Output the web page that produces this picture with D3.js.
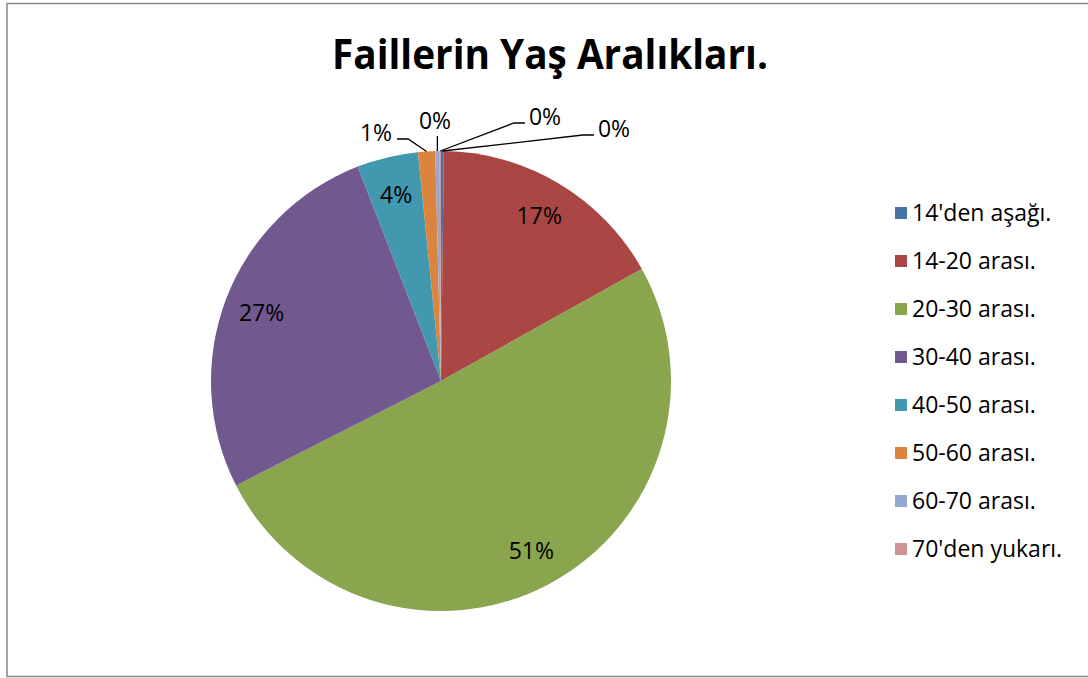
<!DOCTYPE html>
<html>
<head>
<meta charset="utf-8">
<script src="https://cdn.jsdelivr.net/npm/d3@7"></script>
<style>
  html, body { margin: 0; padding: 0; background: #fff; }
  svg { display: block; }
</style>
</head>
<body>
<script>
// Yaş aralıkları (yüzde)
const categories = ["14'den aşağı.", "14-20 arası.", "20-30 arası.", "30-40 arası.",
                    "40-50 arası.", "50-60 arası.", "60-70 arası.", "70'den yukarı."];
const values = [0.2, 16.7, 50.6, 26.6, 4.3, 1.2, 0.3, 0.1];
const colors = ["#4572A7", "#AA4643", "#89A54E", "#71588F",
                "#4198AF", "#DB843D", "#93A9CF", "#D19392"];
const title = "Faillerin Yaş Aralıkları.";

const width = 1088, height = 678;
const cx = 441, cy = 381, R = 230;
const font = "'Open Sans', 'Noto Sans', sans-serif";
const fs = 23;

// dış etiketlerin yeri (merkeze göre: metin ortası x, taban çizgisi y)
const outerPos = {
  "50-60 arası.": [-65, -240],
  "60-70 arası.": [-6, -252],
  "70'den yukarı.": [104, -256],
  "14'den aşağı.": [173, -244]
};

const data = categories.map((c, i) => ({name: c, value: values[i], color: colors[i]}));
const total = d3.sum(values);
const pct = d3.format(".0%");

const svg = d3.select("body").append("svg")
  .attr("width", width).attr("height", height)
  .style("font-family", font);

// çerçeve
svg.append("rect")
  .attr("x", 7).attr("y", 3.5).attr("width", width + 10).attr("height", 673)
  .attr("fill", "#fff").attr("stroke", "#878787").attr("stroke-width", 1.5);

// başlık
svg.append("text")
  .attr("x", 550).attr("y", 69)
  .attr("text-anchor", "middle")
  .attr("font-size", 41).attr("font-weight", "bold").attr("fill", "#000")
  .attr("textLength", 436).attr("lengthAdjust", "spacingAndGlyphs")
  .text(title);

const pie = d3.pie().sort(null).value(d => d.value);
const arcs = pie(data);
const arc = d3.arc().innerRadius(0).outerRadius(R);

const g = svg.append("g").attr("transform", `translate(${cx},${cy})`);

g.selectAll("path.slice")
  .data(arcs)
  .join("path")
  .attr("class", "slice")
  .attr("d", arc)
  .attr("fill", d => d.data.color);

// iç etiketler
const inner = arcs.filter(d => d.data.value / total >= 0.02);
const labelArc = d3.arc().innerRadius(192).outerRadius(192);
g.selectAll("text.inner")
  .data(inner)
  .join("text")
  .attr("class", "inner")
  .attr("transform", d => `translate(${labelArc.centroid(d)})`)
  .attr("text-anchor", "middle").attr("dy", "0.36em")
  .attr("font-size", fs).attr("fill", "#000")
  .text(d => pct(d.data.value / total));

// dış etiketler + kılavuz çizgileri
const outer = arcs.filter(d => d.data.value / total < 0.02);
const edgeArc = d3.arc().innerRadius(R).outerRadius(R);
for (const d of outer) {
  const [tx, ty] = outerPos[d.data.name];
  const [ax, ay] = edgeArc.centroid(d);
  const t = g.append("text")
    .attr("x", tx).attr("y", ty)
    .attr("text-anchor", "middle")
    .attr("font-size", fs).attr("fill", "#000")
    .text(pct(d.data.value / total));
  const w = t.node().getComputedTextLength();
  let pts;
  if (Math.abs(tx - ax) < 8) {
    pts = [[ax, ty + 7], [ax, ay]];
  } else if (tx < ax) {
    const x0 = tx + w / 2 + 5;
    pts = [[x0, ty - 2], [x0 + 11, ty - 2], [ax, ay]];
  } else {
    const x0 = tx - w / 2 - 4;
    pts = [[x0, ty - 2], [x0 - 11, ty - 2], [ax, ay]];
  }
  g.append("path")
    .attr("d", d3.line()(pts))
    .attr("fill", "none").attr("stroke", "#000").attr("stroke-width", 1.3);
}

// lejant
const legend = svg.append("g").attr("transform", "translate(895,213)");
const item = legend.selectAll("g")
  .data(data)
  .join("g")
  .attr("transform", (d, i) => `translate(0,${i * 48})`);
item.append("rect")
  .attr("x", 0).attr("y", -6).attr("width", 12).attr("height", 12)
  .attr("fill", d => d.color);
item.append("text")
  .attr("x", 17).attr("dy", "0.36em")
  .attr("font-size", fs).attr("fill", "#000")
  .text(d => d.name);
</script>
</body>
</html>
